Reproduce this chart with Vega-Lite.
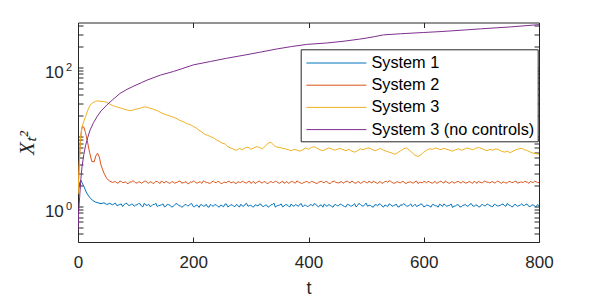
{
  "$schema": "https://vega.github.io/schema/vega-lite/v6.json",
  "autosize": "none",
  "padding": {"left": 78, "top": 22.5, "right": 58, "bottom": 55.5},
  "width": 461,
  "height": 219.5,
  "config": {
    "view": {"stroke": "#262626", "strokeWidth": 1},
    "axis": {"grid": false, "domain": false, "tickColor": "#262626", "tickWidth": 1, "tickSize": -5, "labelColor": "#262626", "labelFont": "Liberation Sans", "labelFontSize": 17, "titleColor": "#262626", "labelFlush": false, "labelOverlap": false, "labelBound": false}
  },
  "data": {"values": [
{"t":0,"v":1.5,"series":"System 1"},{"t":3,"v":2.2,"series":"System 1"},{"t":5,"v":2.37,"series":"System 1"},{"t":8,"v":2.1,"series":"System 1"},{"t":10,"v":1.95,"series":"System 1"},{"t":15,"v":1.55,"series":"System 1"},{"t":20,"v":1.35,"series":"System 1"},{"t":25,"v":1.22,"series":"System 1"},{"t":30,"v":1.15,"series":"System 1"},{"t":35,"v":1.12,"series":"System 1"},{"t":40,"v":1.09,"series":"System 1"},{"t":45,"v":1.12,"series":"System 1"},{"t":50,"v":1.06,"series":"System 1"},{"t":55,"v":1.1,"series":"System 1"},{"t":60,"v":1.05,"series":"System 1"},{"t":65,"v":1.11,"series":"System 1"},{"t":70,"v":1.04,"series":"System 1"},{"t":75,"v":1.08,"series":"System 1"},{"t":80,"v":1.06,"series":"System 1"},{"t":85,"v":1.1,"series":"System 1"},{"t":90,"v":1.03,"series":"System 1"},{"t":95,"v":1.07,"series":"System 1"},
{"t":100,"v":1.04,"series":"System 1"},{"t":105,"v":1.09,"series":"System 1"},{"t":110,"v":1.01,"series":"System 1"},{"t":115,"v":1.1,"series":"System 1"},{"t":120,"v":1.03,"series":"System 1"},{"t":125,"v":0.99,"series":"System 1"},{"t":130,"v":1.06,"series":"System 1"},{"t":135,"v":1.11,"series":"System 1"},{"t":140,"v":1.02,"series":"System 1"},{"t":145,"v":1.05,"series":"System 1"},{"t":150,"v":0.98,"series":"System 1"},{"t":155,"v":1.07,"series":"System 1"},{"t":160,"v":1.03,"series":"System 1"},{"t":165,"v":1.0,"series":"System 1"},{"t":170,"v":1.09,"series":"System 1"},{"t":175,"v":1.02,"series":"System 1"},{"t":180,"v":0.97,"series":"System 1"},{"t":185,"v":1.05,"series":"System 1"},{"t":190,"v":1.01,"series":"System 1"},{"t":195,"v":1.08,"series":"System 1"},
{"t":200,"v":0.99,"series":"System 1"},{"t":205,"v":1.04,"series":"System 1"},{"t":210,"v":0.96,"series":"System 1"},{"t":215,"v":1.05,"series":"System 1"},{"t":220,"v":1.01,"series":"System 1"},{"t":225,"v":0.98,"series":"System 1"},{"t":230,"v":1.07,"series":"System 1"},{"t":235,"v":1.0,"series":"System 1"},{"t":240,"v":1.04,"series":"System 1"},{"t":245,"v":0.97,"series":"System 1"},{"t":250,"v":1.02,"series":"System 1"},{"t":255,"v":1.07,"series":"System 1"},{"t":260,"v":0.98,"series":"System 1"},{"t":265,"v":1.04,"series":"System 1"},{"t":270,"v":1.0,"series":"System 1"},{"t":275,"v":1.06,"series":"System 1"},{"t":280,"v":0.97,"series":"System 1"},{"t":285,"v":1.01,"series":"System 1"},{"t":290,"v":1.07,"series":"System 1"},{"t":295,"v":1.0,"series":"System 1"},
{"t":300,"v":1.04,"series":"System 1"},{"t":305,"v":0.98,"series":"System 1"},{"t":310,"v":1.03,"series":"System 1"},{"t":315,"v":1.08,"series":"System 1"},{"t":320,"v":1.0,"series":"System 1"},{"t":325,"v":1.04,"series":"System 1"},{"t":330,"v":0.97,"series":"System 1"},{"t":335,"v":1.05,"series":"System 1"},{"t":340,"v":1.11,"series":"System 1"},{"t":345,"v":1.01,"series":"System 1"},{"t":350,"v":1.04,"series":"System 1"},{"t":355,"v":0.98,"series":"System 1"},{"t":360,"v":1.05,"series":"System 1"},{"t":365,"v":1.01,"series":"System 1"},{"t":370,"v":1.08,"series":"System 1"},{"t":375,"v":1.0,"series":"System 1"},{"t":380,"v":1.03,"series":"System 1"},{"t":385,"v":1.07,"series":"System 1"},{"t":390,"v":0.98,"series":"System 1"},{"t":395,"v":1.04,"series":"System 1"},
{"t":400,"v":1.0,"series":"System 1"},{"t":405,"v":1.05,"series":"System 1"},{"t":410,"v":1.09,"series":"System 1"},{"t":415,"v":1.01,"series":"System 1"},{"t":420,"v":1.04,"series":"System 1"},{"t":425,"v":0.97,"series":"System 1"},{"t":430,"v":1.02,"series":"System 1"},{"t":435,"v":1.06,"series":"System 1"},{"t":440,"v":1.0,"series":"System 1"},{"t":445,"v":1.05,"series":"System 1"},{"t":450,"v":1.01,"series":"System 1"},{"t":455,"v":1.08,"series":"System 1"},{"t":460,"v":1.02,"series":"System 1"},{"t":465,"v":0.98,"series":"System 1"},{"t":470,"v":1.05,"series":"System 1"},{"t":475,"v":1.01,"series":"System 1"},{"t":480,"v":1.09,"series":"System 1"},{"t":485,"v":1.02,"series":"System 1"},{"t":490,"v":1.06,"series":"System 1"},{"t":495,"v":1.0,"series":"System 1"},
{"t":500,"v":1.11,"series":"System 1"},{"t":505,"v":1.03,"series":"System 1"},{"t":510,"v":0.99,"series":"System 1"},{"t":515,"v":1.05,"series":"System 1"},{"t":520,"v":1.01,"series":"System 1"},{"t":525,"v":1.07,"series":"System 1"},{"t":530,"v":0.97,"series":"System 1"},{"t":535,"v":1.02,"series":"System 1"},{"t":540,"v":1.08,"series":"System 1"},{"t":545,"v":1.0,"series":"System 1"},{"t":550,"v":1.04,"series":"System 1"},{"t":555,"v":0.98,"series":"System 1"},{"t":560,"v":1.05,"series":"System 1"},{"t":565,"v":1.09,"series":"System 1"},{"t":570,"v":1.01,"series":"System 1"},{"t":575,"v":1.04,"series":"System 1"},{"t":580,"v":0.99,"series":"System 1"},{"t":585,"v":1.07,"series":"System 1"},{"t":590,"v":1.02,"series":"System 1"},{"t":595,"v":1.08,"series":"System 1"},
{"t":600,"v":0.98,"series":"System 1"},{"t":605,"v":1.04,"series":"System 1"},{"t":610,"v":1.0,"series":"System 1"},{"t":615,"v":1.06,"series":"System 1"},{"t":620,"v":1.02,"series":"System 1"},{"t":625,"v":0.97,"series":"System 1"},{"t":630,"v":1.04,"series":"System 1"},{"t":635,"v":1.08,"series":"System 1"},{"t":640,"v":1.0,"series":"System 1"},{"t":645,"v":1.03,"series":"System 1"},{"t":650,"v":0.96,"series":"System 1"},{"t":655,"v":1.01,"series":"System 1"},{"t":660,"v":1.05,"series":"System 1"},{"t":665,"v":0.98,"series":"System 1"},{"t":670,"v":1.04,"series":"System 1"},{"t":675,"v":1.0,"series":"System 1"},{"t":680,"v":1.07,"series":"System 1"},{"t":685,"v":1.01,"series":"System 1"},{"t":690,"v":1.04,"series":"System 1"},{"t":695,"v":0.98,"series":"System 1"},
{"t":700,"v":1.05,"series":"System 1"},{"t":705,"v":1.01,"series":"System 1"},{"t":710,"v":1.08,"series":"System 1"},{"t":715,"v":1.02,"series":"System 1"},{"t":720,"v":0.99,"series":"System 1"},{"t":725,"v":1.05,"series":"System 1"},{"t":730,"v":1.01,"series":"System 1"},{"t":735,"v":1.06,"series":"System 1"},{"t":740,"v":1.02,"series":"System 1"},{"t":745,"v":1.1,"series":"System 1"},{"t":750,"v":1.03,"series":"System 1"},{"t":755,"v":0.99,"series":"System 1"},{"t":760,"v":1.05,"series":"System 1"},{"t":765,"v":1.02,"series":"System 1"},{"t":770,"v":1.09,"series":"System 1"},{"t":775,"v":1.03,"series":"System 1"},{"t":780,"v":1.06,"series":"System 1"},{"t":785,"v":0.99,"series":"System 1"},{"t":790,"v":1.04,"series":"System 1"},{"t":795,"v":0.98,"series":"System 1"},{"t":800,"v":1.02,"series":"System 1"},
{"t":62.5,"v":1.08,"series":"System 1"},{"t":67.5,"v":1.02,"series":"System 1"},{"t":72.5,"v":1.06,"series":"System 1"},{"t":77.5,"v":0.99,"series":"System 1"},{"t":82.5,"v":1.1,"series":"System 1"},{"t":87.5,"v":1.03,"series":"System 1"},{"t":92.5,"v":1.07,"series":"System 1"},{"t":97.5,"v":1.0,"series":"System 1"},{"t":102.5,"v":1.05,"series":"System 1"},{"t":107.5,"v":1.09,"series":"System 1"},{"t":112.5,"v":0.98,"series":"System 1"},{"t":117.5,"v":1.04,"series":"System 1"},{"t":122.5,"v":1.07,"series":"System 1"},{"t":127.5,"v":1.01,"series":"System 1"},{"t":132.5,"v":1.06,"series":"System 1"},{"t":137.5,"v":0.99,"series":"System 1"},{"t":142.5,"v":1.03,"series":"System 1"},{"t":147.5,"v":1.08,"series":"System 1"},{"t":152.5,"v":1.0,"series":"System 1"},{"t":157.5,"v":1.05,"series":"System 1"},
{"t":162.5,"v":0.97,"series":"System 1"},{"t":167.5,"v":1.04,"series":"System 1"},{"t":172.5,"v":1.08,"series":"System 1"},{"t":177.5,"v":1.01,"series":"System 1"},{"t":182.5,"v":0.99,"series":"System 1"},{"t":187.5,"v":1.06,"series":"System 1"},{"t":192.5,"v":1.02,"series":"System 1"},{"t":197.5,"v":1.09,"series":"System 1"},{"t":202.5,"v":0.98,"series":"System 1"},{"t":207.5,"v":1.03,"series":"System 1"},{"t":212.5,"v":1.05,"series":"System 1"},{"t":217.5,"v":1.0,"series":"System 1"},{"t":222.5,"v":1.07,"series":"System 1"},{"t":227.5,"v":0.97,"series":"System 1"},{"t":232.5,"v":1.02,"series":"System 1"},{"t":237.5,"v":1.06,"series":"System 1"},{"t":242.5,"v":1.0,"series":"System 1"},{"t":247.5,"v":1.04,"series":"System 1"},{"t":252.5,"v":0.98,"series":"System 1"},{"t":257.5,"v":1.08,"series":"System 1"},
{"t":262.5,"v":1.01,"series":"System 1"},{"t":267.5,"v":1.05,"series":"System 1"},{"t":272.5,"v":0.99,"series":"System 1"},{"t":277.5,"v":1.03,"series":"System 1"},{"t":282.5,"v":1.07,"series":"System 1"},{"t":287.5,"v":1.0,"series":"System 1"},{"t":292.5,"v":1.1,"series":"System 1"},{"t":297.5,"v":1.02,"series":"System 1"},{"t":302.5,"v":0.98,"series":"System 1"},{"t":307.5,"v":1.05,"series":"System 1"},{"t":312.5,"v":1.01,"series":"System 1"},{"t":317.5,"v":1.07,"series":"System 1"},{"t":322.5,"v":0.99,"series":"System 1"},{"t":327.5,"v":1.04,"series":"System 1"},{"t":332.5,"v":1.0,"series":"System 1"},{"t":337.5,"v":1.06,"series":"System 1"},{"t":342.5,"v":0.97,"series":"System 1"},{"t":347.5,"v":1.03,"series":"System 1"},{"t":352.5,"v":1.08,"series":"System 1"},{"t":357.5,"v":1.01,"series":"System 1"},
{"t":362.5,"v":1.05,"series":"System 1"},{"t":367.5,"v":0.98,"series":"System 1"},{"t":372.5,"v":1.02,"series":"System 1"},{"t":377.5,"v":1.06,"series":"System 1"},{"t":382.5,"v":1.0,"series":"System 1"},{"t":387.5,"v":1.09,"series":"System 1"},{"t":392.5,"v":1.03,"series":"System 1"},{"t":397.5,"v":0.99,"series":"System 1"},{"t":402.5,"v":1.05,"series":"System 1"},{"t":407.5,"v":1.01,"series":"System 1"},{"t":412.5,"v":1.07,"series":"System 1"},{"t":417.5,"v":0.98,"series":"System 1"},{"t":422.5,"v":1.04,"series":"System 1"},{"t":427.5,"v":1.08,"series":"System 1"},{"t":432.5,"v":1.0,"series":"System 1"},{"t":437.5,"v":1.03,"series":"System 1"},{"t":442.5,"v":0.97,"series":"System 1"},{"t":447.5,"v":1.06,"series":"System 1"},{"t":452.5,"v":1.02,"series":"System 1"},{"t":457.5,"v":1.05,"series":"System 1"},
{"t":462.5,"v":0.99,"series":"System 1"},{"t":467.5,"v":1.07,"series":"System 1"},{"t":472.5,"v":1.01,"series":"System 1"},{"t":477.5,"v":1.04,"series":"System 1"},{"t":482.5,"v":0.98,"series":"System 1"},{"t":487.5,"v":1.1,"series":"System 1"},{"t":492.5,"v":1.02,"series":"System 1"},{"t":497.5,"v":1.06,"series":"System 1"},{"t":502.5,"v":1.0,"series":"System 1"},{"t":507.5,"v":1.03,"series":"System 1"},{"t":512.5,"v":0.97,"series":"System 1"},{"t":517.5,"v":1.05,"series":"System 1"},{"t":522.5,"v":1.08,"series":"System 1"},{"t":527.5,"v":1.01,"series":"System 1"},{"t":532.5,"v":1.04,"series":"System 1"},{"t":537.5,"v":0.99,"series":"System 1"},{"t":542.5,"v":1.06,"series":"System 1"},{"t":547.5,"v":1.02,"series":"System 1"},{"t":552.5,"v":1.07,"series":"System 1"},{"t":557.5,"v":0.98,"series":"System 1"},
{"t":562.5,"v":1.03,"series":"System 1"},{"t":567.5,"v":1.05,"series":"System 1"},{"t":572.5,"v":1.0,"series":"System 1"},{"t":577.5,"v":1.08,"series":"System 1"},{"t":582.5,"v":1.02,"series":"System 1"},{"t":587.5,"v":0.99,"series":"System 1"},{"t":592.5,"v":1.04,"series":"System 1"},{"t":597.5,"v":1.06,"series":"System 1"},{"t":602.5,"v":1.0,"series":"System 1"},{"t":607.5,"v":1.03,"series":"System 1"},{"t":612.5,"v":0.97,"series":"System 1"},{"t":617.5,"v":1.05,"series":"System 1"},{"t":622.5,"v":1.01,"series":"System 1"},{"t":627.5,"v":1.07,"series":"System 1"},{"t":632.5,"v":0.99,"series":"System 1"},{"t":637.5,"v":1.04,"series":"System 1"},{"t":642.5,"v":1.02,"series":"System 1"},{"t":647.5,"v":1.08,"series":"System 1"},{"t":652.5,"v":1.0,"series":"System 1"},{"t":657.5,"v":1.05,"series":"System 1"},
{"t":662.5,"v":0.98,"series":"System 1"},{"t":667.5,"v":1.03,"series":"System 1"},{"t":672.5,"v":1.06,"series":"System 1"},{"t":677.5,"v":1.01,"series":"System 1"},{"t":682.5,"v":1.09,"series":"System 1"},{"t":687.5,"v":1.0,"series":"System 1"},{"t":692.5,"v":1.04,"series":"System 1"},{"t":697.5,"v":0.98,"series":"System 1"},{"t":702.5,"v":1.06,"series":"System 1"},{"t":707.5,"v":1.02,"series":"System 1"},{"t":712.5,"v":1.05,"series":"System 1"},{"t":717.5,"v":0.99,"series":"System 1"},{"t":722.5,"v":1.07,"series":"System 1"},{"t":727.5,"v":1.01,"series":"System 1"},{"t":732.5,"v":1.03,"series":"System 1"},{"t":737.5,"v":1.08,"series":"System 1"},{"t":742.5,"v":1.0,"series":"System 1"},{"t":747.5,"v":1.04,"series":"System 1"},{"t":752.5,"v":0.98,"series":"System 1"},{"t":757.5,"v":1.06,"series":"System 1"},
{"t":762.5,"v":1.0,"series":"System 1"},{"t":767.5,"v":1.04,"series":"System 1"},{"t":772.5,"v":1.02,"series":"System 1"},{"t":777.5,"v":1.07,"series":"System 1"},{"t":782.5,"v":0.99,"series":"System 1"},{"t":787.5,"v":1.05,"series":"System 1"},{"t":792.5,"v":1.01,"series":"System 1"},{"t":797.5,"v":1.06,"series":"System 1"},

{"t":0,"v":1.5,"series":"System 2"},{"t":2,"v":4,"series":"System 2"},{"t":4,"v":8.5,"series":"System 2"},{"t":6,"v":12.5,"series":"System 2"},{"t":8,"v":14.2,"series":"System 2"},{"t":10,"v":13.8,"series":"System 2"},{"t":13,"v":11.5,"series":"System 2"},{"t":16,"v":8.8,"series":"System 2"},{"t":20,"v":6.0,"series":"System 2"},{"t":24,"v":4.4,"series":"System 2"},{"t":28,"v":4.35,"series":"System 2"},{"t":31,"v":5.3,"series":"System 2"},{"t":34,"v":5.8,"series":"System 2"},{"t":37,"v":5.1,"series":"System 2"},{"t":40,"v":3.9,"series":"System 2"},{"t":45,"v":3.0,"series":"System 2"},{"t":50,"v":2.5,"series":"System 2"},{"t":55,"v":2.3,"series":"System 2"},{"t":60,"v":2.2,"series":"System 2"},
{"t":65,"v":2.26,"series":"System 2"},{"t":70,"v":2.15,"series":"System 2"},{"t":75,"v":2.28,"series":"System 2"},{"t":80,"v":2.2,"series":"System 2"},{"t":85,"v":2.13,"series":"System 2"},{"t":90,"v":2.25,"series":"System 2"},{"t":95,"v":2.31,"series":"System 2"},{"t":100,"v":2.17,"series":"System 2"},{"t":105,"v":2.23,"series":"System 2"},{"t":110,"v":2.14,"series":"System 2"},{"t":115,"v":2.28,"series":"System 2"},{"t":120,"v":2.19,"series":"System 2"},{"t":125,"v":2.25,"series":"System 2"},{"t":130,"v":2.12,"series":"System 2"},{"t":135,"v":2.27,"series":"System 2"},{"t":140,"v":2.2,"series":"System 2"},{"t":145,"v":2.32,"series":"System 2"},{"t":150,"v":2.16,"series":"System 2"},{"t":155,"v":2.22,"series":"System 2"},{"t":160,"v":2.14,"series":"System 2"},{"t":165,"v":2.26,"series":"System 2"},{"t":170,"v":2.19,"series":"System 2"},{"t":175,"v":2.29,"series":"System 2"},{"t":180,"v":2.15,"series":"System 2"},{"t":185,"v":2.21,"series":"System 2"},{"t":190,"v":2.12,"series":"System 2"},{"t":195,"v":2.25,"series":"System 2"},
{"t":200,"v":2.3,"series":"System 2"},{"t":205,"v":2.17,"series":"System 2"},{"t":210,"v":2.23,"series":"System 2"},{"t":215,"v":2.13,"series":"System 2"},{"t":220,"v":2.27,"series":"System 2"},{"t":225,"v":2.2,"series":"System 2"},{"t":230,"v":2.16,"series":"System 2"},{"t":235,"v":2.3,"series":"System 2"},{"t":240,"v":2.18,"series":"System 2"},{"t":245,"v":2.24,"series":"System 2"},{"t":250,"v":2.11,"series":"System 2"},{"t":255,"v":2.22,"series":"System 2"},{"t":260,"v":2.28,"series":"System 2"},{"t":265,"v":2.17,"series":"System 2"},{"t":270,"v":2.25,"series":"System 2"},{"t":275,"v":2.14,"series":"System 2"},{"t":280,"v":2.21,"series":"System 2"},{"t":285,"v":2.29,"series":"System 2"},{"t":290,"v":2.18,"series":"System 2"},{"t":295,"v":2.24,"series":"System 2"},
{"t":300,"v":2.13,"series":"System 2"},{"t":305,"v":2.26,"series":"System 2"},{"t":310,"v":2.2,"series":"System 2"},{"t":315,"v":2.31,"series":"System 2"},{"t":320,"v":2.16,"series":"System 2"},{"t":325,"v":2.23,"series":"System 2"},{"t":330,"v":2.12,"series":"System 2"},{"t":335,"v":2.27,"series":"System 2"},{"t":340,"v":2.19,"series":"System 2"},{"t":345,"v":2.25,"series":"System 2"},{"t":350,"v":2.15,"series":"System 2"},{"t":355,"v":2.3,"series":"System 2"},{"t":360,"v":2.2,"series":"System 2"},{"t":365,"v":2.14,"series":"System 2"},{"t":370,"v":2.26,"series":"System 2"},{"t":375,"v":2.18,"series":"System 2"},{"t":380,"v":2.32,"series":"System 2"},{"t":385,"v":2.2,"series":"System 2"},{"t":390,"v":2.15,"series":"System 2"},{"t":395,"v":2.24,"series":"System 2"},
{"t":400,"v":2.17,"series":"System 2"},{"t":405,"v":2.29,"series":"System 2"},{"t":410,"v":2.21,"series":"System 2"},{"t":415,"v":2.13,"series":"System 2"},{"t":420,"v":2.25,"series":"System 2"},{"t":425,"v":2.19,"series":"System 2"},{"t":430,"v":2.28,"series":"System 2"},{"t":435,"v":2.15,"series":"System 2"},{"t":440,"v":2.22,"series":"System 2"},{"t":445,"v":2.3,"series":"System 2"},{"t":450,"v":2.18,"series":"System 2"},{"t":455,"v":2.23,"series":"System 2"},{"t":460,"v":2.14,"series":"System 2"},{"t":465,"v":2.27,"series":"System 2"},{"t":470,"v":2.2,"series":"System 2"},{"t":475,"v":2.31,"series":"System 2"},{"t":480,"v":2.17,"series":"System 2"},{"t":485,"v":2.24,"series":"System 2"},{"t":490,"v":2.13,"series":"System 2"},{"t":495,"v":2.26,"series":"System 2"},
{"t":500,"v":2.2,"series":"System 2"},{"t":505,"v":2.3,"series":"System 2"},{"t":510,"v":2.16,"series":"System 2"},{"t":515,"v":2.23,"series":"System 2"},{"t":520,"v":2.12,"series":"System 2"},{"t":525,"v":2.25,"series":"System 2"},{"t":530,"v":2.19,"series":"System 2"},{"t":535,"v":2.28,"series":"System 2"},{"t":540,"v":2.33,"series":"System 2"},{"t":545,"v":2.2,"series":"System 2"},{"t":550,"v":2.15,"series":"System 2"},{"t":555,"v":2.24,"series":"System 2"},{"t":560,"v":2.18,"series":"System 2"},{"t":565,"v":2.27,"series":"System 2"},{"t":570,"v":2.14,"series":"System 2"},{"t":575,"v":2.22,"series":"System 2"},{"t":580,"v":2.17,"series":"System 2"},{"t":585,"v":2.26,"series":"System 2"},{"t":590,"v":2.12,"series":"System 2"},{"t":595,"v":2.21,"series":"System 2"},
{"t":600,"v":2.28,"series":"System 2"},{"t":605,"v":2.18,"series":"System 2"},{"t":610,"v":2.24,"series":"System 2"},{"t":615,"v":2.15,"series":"System 2"},{"t":620,"v":2.27,"series":"System 2"},{"t":625,"v":2.2,"series":"System 2"},{"t":630,"v":2.3,"series":"System 2"},{"t":635,"v":2.16,"series":"System 2"},{"t":640,"v":2.23,"series":"System 2"},{"t":645,"v":2.13,"series":"System 2"},{"t":650,"v":2.25,"series":"System 2"},{"t":655,"v":2.19,"series":"System 2"},{"t":660,"v":2.28,"series":"System 2"},{"t":665,"v":2.15,"series":"System 2"},{"t":670,"v":2.22,"series":"System 2"},{"t":675,"v":2.17,"series":"System 2"},{"t":680,"v":2.26,"series":"System 2"},{"t":685,"v":2.14,"series":"System 2"},{"t":690,"v":2.21,"series":"System 2"},{"t":695,"v":2.29,"series":"System 2"},
{"t":700,"v":2.18,"series":"System 2"},{"t":705,"v":2.31,"series":"System 2"},{"t":710,"v":2.22,"series":"System 2"},{"t":715,"v":2.16,"series":"System 2"},{"t":720,"v":2.25,"series":"System 2"},{"t":725,"v":2.19,"series":"System 2"},{"t":730,"v":2.27,"series":"System 2"},{"t":735,"v":2.14,"series":"System 2"},{"t":740,"v":2.21,"series":"System 2"},{"t":745,"v":2.17,"series":"System 2"},{"t":750,"v":2.26,"series":"System 2"},{"t":755,"v":2.2,"series":"System 2"},{"t":760,"v":2.3,"series":"System 2"},{"t":765,"v":2.18,"series":"System 2"},{"t":770,"v":2.24,"series":"System 2"},{"t":775,"v":2.29,"series":"System 2"},{"t":780,"v":2.21,"series":"System 2"},{"t":785,"v":2.27,"series":"System 2"},{"t":790,"v":2.19,"series":"System 2"},{"t":795,"v":2.25,"series":"System 2"},{"t":800,"v":2.2,"series":"System 2"},
{"t":62.5,"v":2.24,"series":"System 2"},{"t":67.5,"v":2.17,"series":"System 2"},{"t":72.5,"v":2.3,"series":"System 2"},{"t":77.5,"v":2.19,"series":"System 2"},{"t":82.5,"v":2.25,"series":"System 2"},{"t":87.5,"v":2.12,"series":"System 2"},{"t":92.5,"v":2.22,"series":"System 2"},{"t":97.5,"v":2.28,"series":"System 2"},{"t":102.5,"v":2.16,"series":"System 2"},{"t":107.5,"v":2.24,"series":"System 2"},{"t":112.5,"v":2.2,"series":"System 2"},{"t":117.5,"v":2.31,"series":"System 2"},{"t":122.5,"v":2.15,"series":"System 2"},{"t":127.5,"v":2.23,"series":"System 2"},{"t":132.5,"v":2.18,"series":"System 2"},{"t":137.5,"v":2.27,"series":"System 2"},{"t":142.5,"v":2.13,"series":"System 2"},{"t":147.5,"v":2.21,"series":"System 2"},{"t":152.5,"v":2.29,"series":"System 2"},{"t":157.5,"v":2.17,"series":"System 2"},
{"t":162.5,"v":2.25,"series":"System 2"},{"t":167.5,"v":2.14,"series":"System 2"},{"t":172.5,"v":2.22,"series":"System 2"},{"t":177.5,"v":2.3,"series":"System 2"},{"t":182.5,"v":2.18,"series":"System 2"},{"t":187.5,"v":2.26,"series":"System 2"},{"t":192.5,"v":2.11,"series":"System 2"},{"t":197.5,"v":2.2,"series":"System 2"},{"t":202.5,"v":2.27,"series":"System 2"},{"t":207.5,"v":2.16,"series":"System 2"},{"t":212.5,"v":2.23,"series":"System 2"},{"t":217.5,"v":2.32,"series":"System 2"},{"t":222.5,"v":2.19,"series":"System 2"},{"t":227.5,"v":2.14,"series":"System 2"},{"t":232.5,"v":2.25,"series":"System 2"},{"t":237.5,"v":2.21,"series":"System 2"},{"t":242.5,"v":2.28,"series":"System 2"},{"t":247.5,"v":2.15,"series":"System 2"},{"t":252.5,"v":2.22,"series":"System 2"},{"t":257.5,"v":2.17,"series":"System 2"},
{"t":262.5,"v":2.29,"series":"System 2"},{"t":267.5,"v":2.2,"series":"System 2"},{"t":272.5,"v":2.13,"series":"System 2"},{"t":277.5,"v":2.26,"series":"System 2"},{"t":282.5,"v":2.19,"series":"System 2"},{"t":287.5,"v":2.24,"series":"System 2"},{"t":292.5,"v":2.16,"series":"System 2"},{"t":297.5,"v":2.3,"series":"System 2"},{"t":302.5,"v":2.21,"series":"System 2"},{"t":307.5,"v":2.12,"series":"System 2"},{"t":312.5,"v":2.25,"series":"System 2"},{"t":317.5,"v":2.18,"series":"System 2"},{"t":322.5,"v":2.27,"series":"System 2"},{"t":327.5,"v":2.15,"series":"System 2"},{"t":332.5,"v":2.23,"series":"System 2"},{"t":337.5,"v":2.2,"series":"System 2"},{"t":342.5,"v":2.31,"series":"System 2"},{"t":347.5,"v":2.17,"series":"System 2"},{"t":352.5,"v":2.22,"series":"System 2"},{"t":357.5,"v":2.14,"series":"System 2"},
{"t":362.5,"v":2.26,"series":"System 2"},{"t":367.5,"v":2.19,"series":"System 2"},{"t":372.5,"v":2.28,"series":"System 2"},{"t":377.5,"v":2.16,"series":"System 2"},{"t":382.5,"v":2.24,"series":"System 2"},{"t":387.5,"v":2.13,"series":"System 2"},{"t":392.5,"v":2.21,"series":"System 2"},{"t":397.5,"v":2.29,"series":"System 2"},{"t":402.5,"v":2.18,"series":"System 2"},{"t":407.5,"v":2.25,"series":"System 2"},{"t":412.5,"v":2.15,"series":"System 2"},{"t":417.5,"v":2.22,"series":"System 2"},{"t":422.5,"v":2.3,"series":"System 2"},{"t":427.5,"v":2.19,"series":"System 2"},{"t":432.5,"v":2.24,"series":"System 2"},{"t":437.5,"v":2.12,"series":"System 2"},{"t":442.5,"v":2.27,"series":"System 2"},{"t":447.5,"v":2.2,"series":"System 2"},{"t":452.5,"v":2.16,"series":"System 2"},{"t":457.5,"v":2.26,"series":"System 2"},
{"t":462.5,"v":2.21,"series":"System 2"},{"t":467.5,"v":2.31,"series":"System 2"},{"t":472.5,"v":2.17,"series":"System 2"},{"t":477.5,"v":2.23,"series":"System 2"},{"t":482.5,"v":2.14,"series":"System 2"},{"t":487.5,"v":2.25,"series":"System 2"},{"t":492.5,"v":2.19,"series":"System 2"},{"t":497.5,"v":2.28,"series":"System 2"},{"t":502.5,"v":2.16,"series":"System 2"},{"t":507.5,"v":2.22,"series":"System 2"},{"t":512.5,"v":2.3,"series":"System 2"},{"t":517.5,"v":2.18,"series":"System 2"},{"t":522.5,"v":2.24,"series":"System 2"},{"t":527.5,"v":2.13,"series":"System 2"},{"t":532.5,"v":2.26,"series":"System 2"},{"t":537.5,"v":2.2,"series":"System 2"},{"t":542.5,"v":2.29,"series":"System 2"},{"t":547.5,"v":2.15,"series":"System 2"},{"t":552.5,"v":2.23,"series":"System 2"},{"t":557.5,"v":2.19,"series":"System 2"},
{"t":562.5,"v":2.27,"series":"System 2"},{"t":567.5,"v":2.14,"series":"System 2"},{"t":572.5,"v":2.21,"series":"System 2"},{"t":577.5,"v":2.25,"series":"System 2"},{"t":582.5,"v":2.17,"series":"System 2"},{"t":587.5,"v":2.3,"series":"System 2"},{"t":592.5,"v":2.2,"series":"System 2"},{"t":597.5,"v":2.16,"series":"System 2"},{"t":602.5,"v":2.24,"series":"System 2"},{"t":607.5,"v":2.28,"series":"System 2"},{"t":612.5,"v":2.18,"series":"System 2"},{"t":617.5,"v":2.22,"series":"System 2"},{"t":622.5,"v":2.13,"series":"System 2"},{"t":627.5,"v":2.26,"series":"System 2"},{"t":632.5,"v":2.19,"series":"System 2"},{"t":637.5,"v":2.31,"series":"System 2"},{"t":642.5,"v":2.17,"series":"System 2"},{"t":647.5,"v":2.23,"series":"System 2"},{"t":652.5,"v":2.15,"series":"System 2"},{"t":657.5,"v":2.25,"series":"System 2"},
{"t":662.5,"v":2.2,"series":"System 2"},{"t":667.5,"v":2.28,"series":"System 2"},{"t":672.5,"v":2.16,"series":"System 2"},{"t":677.5,"v":2.24,"series":"System 2"},{"t":682.5,"v":2.19,"series":"System 2"},{"t":687.5,"v":2.29,"series":"System 2"},{"t":692.5,"v":2.14,"series":"System 2"},{"t":697.5,"v":2.22,"series":"System 2"},{"t":702.5,"v":2.18,"series":"System 2"},{"t":707.5,"v":2.27,"series":"System 2"},{"t":712.5,"v":2.21,"series":"System 2"},{"t":717.5,"v":2.25,"series":"System 2"},{"t":722.5,"v":2.17,"series":"System 2"},{"t":727.5,"v":2.3,"series":"System 2"},{"t":732.5,"v":2.2,"series":"System 2"},{"t":737.5,"v":2.24,"series":"System 2"},{"t":742.5,"v":2.16,"series":"System 2"},{"t":747.5,"v":2.26,"series":"System 2"},
{"t":752.5,"v":2.19,"series":"System 2"},{"t":757.5,"v":2.27,"series":"System 2"},{"t":762.5,"v":2.15,"series":"System 2"},{"t":767.5,"v":2.22,"series":"System 2"},{"t":772.5,"v":2.18,"series":"System 2"},{"t":777.5,"v":2.25,"series":"System 2"},{"t":782.5,"v":2.14,"series":"System 2"},{"t":787.5,"v":2.23,"series":"System 2"},{"t":792.5,"v":2.29,"series":"System 2"},{"t":797.5,"v":2.18,"series":"System 2"},

{"t":0,"v":1.5,"series":"System 3"},{"t":2,"v":3.5,"series":"System 3"},{"t":4,"v":8.9,"series":"System 3"},{"t":7,"v":13.9,"series":"System 3"},{"t":10,"v":16.5,"series":"System 3"},{"t":13,"v":19.4,"series":"System 3"},{"t":17,"v":24,"series":"System 3"},{"t":21,"v":28.6,"series":"System 3"},{"t":25,"v":30.5,"series":"System 3"},{"t":30,"v":32.3,"series":"System 3"},{"t":35,"v":32.8,"series":"System 3"},{"t":40,"v":32.2,"series":"System 3"},{"t":45,"v":32.0,"series":"System 3"},{"t":50,"v":31.2,"series":"System 3"},{"t":55,"v":29.6,"series":"System 3"},{"t":60,"v":28.2,"series":"System 3"},{"t":65,"v":27.3,"series":"System 3"},{"t":70,"v":26.4,"series":"System 3"},{"t":75,"v":25.8,"series":"System 3"},{"t":80,"v":24.9,"series":"System 3"},{"t":85,"v":24.3,"series":"System 3"},{"t":90,"v":23.7,"series":"System 3"},{"t":95,"v":24.2,"series":"System 3"},
{"t":100,"v":24.8,"series":"System 3"},{"t":105,"v":25.4,"series":"System 3"},{"t":110,"v":26.1,"series":"System 3"},{"t":115,"v":26.9,"series":"System 3"},{"t":120,"v":26.6,"series":"System 3"},{"t":125,"v":25.7,"series":"System 3"},{"t":130,"v":25.1,"series":"System 3"},{"t":135,"v":24.1,"series":"System 3"},{"t":140,"v":23.2,"series":"System 3"},{"t":145,"v":22.0,"series":"System 3"},{"t":150,"v":21.1,"series":"System 3"},{"t":155,"v":20.4,"series":"System 3"},{"t":160,"v":19.8,"series":"System 3"},{"t":165,"v":19.1,"series":"System 3"},{"t":170,"v":18.5,"series":"System 3"},{"t":175,"v":17.5,"series":"System 3"},{"t":180,"v":16.8,"series":"System 3"},{"t":185,"v":16.1,"series":"System 3"},{"t":190,"v":15.3,"series":"System 3"},{"t":195,"v":14.9,"series":"System 3"},
{"t":200,"v":14.1,"series":"System 3"},{"t":205,"v":13.4,"series":"System 3"},{"t":210,"v":12.4,"series":"System 3"},{"t":215,"v":11.7,"series":"System 3"},{"t":220,"v":10.8,"series":"System 3"},{"t":225,"v":10.5,"series":"System 3"},{"t":230,"v":10.0,"series":"System 3"},{"t":235,"v":9.7,"series":"System 3"},{"t":240,"v":9.0,"series":"System 3"},{"t":245,"v":8.6,"series":"System 3"},{"t":250,"v":8.1,"series":"System 3"},{"t":255,"v":7.9,"series":"System 3"},{"t":260,"v":7.2,"series":"System 3"},{"t":265,"v":6.9,"series":"System 3"},{"t":270,"v":6.6,"series":"System 3"},{"t":275,"v":6.4,"series":"System 3"},{"t":280,"v":6.8,"series":"System 3"},{"t":285,"v":6.5,"series":"System 3"},{"t":290,"v":6.9,"series":"System 3"},{"t":295,"v":7.1,"series":"System 3"},
{"t":300,"v":6.6,"series":"System 3"},{"t":305,"v":6.9,"series":"System 3"},{"t":310,"v":7.2,"series":"System 3"},{"t":315,"v":7.0,"series":"System 3"},{"t":320,"v":6.7,"series":"System 3"},{"t":325,"v":7.3,"series":"System 3"},{"t":330,"v":8.1,"series":"System 3"},{"t":335,"v":8.3,"series":"System 3"},{"t":340,"v":7.5,"series":"System 3"},{"t":345,"v":7.1,"series":"System 3"},{"t":350,"v":7.0,"series":"System 3"},{"t":355,"v":6.8,"series":"System 3"},{"t":360,"v":6.7,"series":"System 3"},{"t":365,"v":6.5,"series":"System 3"},{"t":370,"v":6.3,"series":"System 3"},{"t":375,"v":6.6,"series":"System 3"},{"t":380,"v":6.4,"series":"System 3"},{"t":385,"v":6.2,"series":"System 3"},{"t":390,"v":6.5,"series":"System 3"},{"t":395,"v":6.9,"series":"System 3"},
{"t":400,"v":6.6,"series":"System 3"},{"t":405,"v":7.0,"series":"System 3"},{"t":410,"v":7.2,"series":"System 3"},{"t":415,"v":6.8,"series":"System 3"},{"t":420,"v":6.5,"series":"System 3"},{"t":425,"v":6.3,"series":"System 3"},{"t":430,"v":6.6,"series":"System 3"},{"t":435,"v":6.9,"series":"System 3"},{"t":440,"v":6.7,"series":"System 3"},{"t":445,"v":6.4,"series":"System 3"},{"t":450,"v":6.6,"series":"System 3"},{"t":455,"v":6.8,"series":"System 3"},{"t":460,"v":6.5,"series":"System 3"},{"t":465,"v":6.3,"series":"System 3"},{"t":470,"v":6.6,"series":"System 3"},{"t":475,"v":6.2,"series":"System 3"},{"t":480,"v":6.0,"series":"System 3"},{"t":485,"v":6.3,"series":"System 3"},{"t":490,"v":6.7,"series":"System 3"},{"t":495,"v":6.5,"series":"System 3"},
{"t":500,"v":6.8,"series":"System 3"},{"t":505,"v":6.9,"series":"System 3"},{"t":510,"v":6.6,"series":"System 3"},{"t":515,"v":6.3,"series":"System 3"},{"t":520,"v":6.5,"series":"System 3"},{"t":525,"v":6.8,"series":"System 3"},{"t":530,"v":6.4,"series":"System 3"},{"t":535,"v":6.2,"series":"System 3"},{"t":540,"v":6.0,"series":"System 3"},{"t":545,"v":5.8,"series":"System 3"},{"t":550,"v":5.6,"series":"System 3"},{"t":555,"v":5.9,"series":"System 3"},{"t":560,"v":6.3,"series":"System 3"},{"t":565,"v":6.7,"series":"System 3"},{"t":570,"v":6.9,"series":"System 3"},{"t":575,"v":6.4,"series":"System 3"},{"t":580,"v":5.9,"series":"System 3"},{"t":585,"v":5.4,"series":"System 3"},{"t":590,"v":5.2,"series":"System 3"},{"t":595,"v":5.5,"series":"System 3"},
{"t":600,"v":6.0,"series":"System 3"},{"t":605,"v":6.4,"series":"System 3"},{"t":610,"v":6.7,"series":"System 3"},{"t":615,"v":6.6,"series":"System 3"},{"t":620,"v":6.9,"series":"System 3"},{"t":625,"v":6.7,"series":"System 3"},{"t":630,"v":6.5,"series":"System 3"},{"t":635,"v":6.8,"series":"System 3"},{"t":640,"v":6.6,"series":"System 3"},{"t":645,"v":6.4,"series":"System 3"},{"t":650,"v":6.2,"series":"System 3"},{"t":655,"v":6.5,"series":"System 3"},{"t":660,"v":6.7,"series":"System 3"},{"t":665,"v":6.4,"series":"System 3"},{"t":670,"v":6.6,"series":"System 3"},{"t":675,"v":6.9,"series":"System 3"},{"t":680,"v":6.7,"series":"System 3"},{"t":685,"v":6.5,"series":"System 3"},{"t":690,"v":6.8,"series":"System 3"},{"t":695,"v":7.0,"series":"System 3"},
{"t":700,"v":6.8,"series":"System 3"},{"t":705,"v":6.5,"series":"System 3"},{"t":710,"v":6.3,"series":"System 3"},{"t":715,"v":6.6,"series":"System 3"},{"t":720,"v":6.4,"series":"System 3"},{"t":725,"v":6.7,"series":"System 3"},{"t":730,"v":6.5,"series":"System 3"},{"t":735,"v":6.2,"series":"System 3"},{"t":740,"v":6.0,"series":"System 3"},{"t":745,"v":6.2,"series":"System 3"},{"t":750,"v":5.9,"series":"System 3"},{"t":755,"v":6.2,"series":"System 3"},{"t":760,"v":6.5,"series":"System 3"},{"t":765,"v":6.7,"series":"System 3"},{"t":770,"v":6.8,"series":"System 3"},{"t":775,"v":6.5,"series":"System 3"},{"t":780,"v":6.3,"series":"System 3"},{"t":785,"v":6.0,"series":"System 3"},{"t":790,"v":5.8,"series":"System 3"},{"t":795,"v":5.7,"series":"System 3"},{"t":800,"v":5.6,"series":"System 3"},

{"t":0,"v":0.45,"series":"System 3 (no controls)"},{"t":1,"v":0.8,"series":"System 3 (no controls)"},{"t":3,"v":1.4,"series":"System 3 (no controls)"},{"t":5,"v":2.5,"series":"System 3 (no controls)"},{"t":7,"v":3.7,"series":"System 3 (no controls)"},{"t":10,"v":5.5,"series":"System 3 (no controls)"},{"t":13,"v":7.4,"series":"System 3 (no controls)"},{"t":17,"v":9.8,"series":"System 3 (no controls)"},{"t":21,"v":12.5,"series":"System 3 (no controls)"},{"t":27,"v":16,"series":"System 3 (no controls)"},{"t":33,"v":19.4,"series":"System 3 (no controls)"},{"t":40,"v":23.5,"series":"System 3 (no controls)"},{"t":50,"v":28.6,"series":"System 3 (no controls)"},{"t":60,"v":34,"series":"System 3 (no controls)"},{"t":73,"v":42,"series":"System 3 (no controls)"},{"t":85,"v":48,"series":"System 3 (no controls)"},{"t":97,"v":53.6,"series":"System 3 (no controls)"},{"t":110,"v":60,"series":"System 3 (no controls)"},{"t":120,"v":65.4,"series":"System 3 (no controls)"},{"t":143,"v":77,"series":"System 3 (no controls)"},{"t":166,"v":87,"series":"System 3 (no controls)"},{"t":180,"v":95,"series":"System 3 (no controls)"},{"t":200,"v":108,"series":"System 3 (no controls)"},{"t":230,"v":121,"series":"System 3 (no controls)"},{"t":258,"v":134.6,"series":"System 3 (no controls)"},{"t":290,"v":150,"series":"System 3 (no controls)"},{"t":315,"v":164,"series":"System 3 (no controls)"},{"t":345,"v":183,"series":"System 3 (no controls)"},{"t":370,"v":198,"series":"System 3 (no controls)"},{"t":397,"v":213,"series":"System 3 (no controls)"},{"t":431,"v":223,"series":"System 3 (no controls)"},{"t":460,"v":236,"series":"System 3 (no controls)"},{"t":489,"v":254,"series":"System 3 (no controls)"},{"t":500,"v":262,"series":"System 3 (no controls)"},{"t":515,"v":276,"series":"System 3 (no controls)"},{"t":530,"v":292,"series":"System 3 (no controls)"},{"t":560,"v":303,"series":"System 3 (no controls)"},{"t":600,"v":316,"series":"System 3 (no controls)"},{"t":630,"v":326,"series":"System 3 (no controls)"},{"t":670,"v":343,"series":"System 3 (no controls)"},{"t":700,"v":357,"series":"System 3 (no controls)"},{"t":750,"v":380,"series":"System 3 (no controls)"},{"t":800,"v":410,"series":"System 3 (no controls)"}
  ]},
  "layer": [
    {
      "mark": {"type": "line", "strokeWidth": 1, "clip": true},
      "encoding": {
        "x": {"field": "t", "type": "quantitative", "scale": {"domain": [0, 800], "nice": false, "zero": false},
          "axis": {"orient": "bottom", "values": [0, 200, 400, 600, 800], "title": "t", "titleFont": "Liberation Sans", "titleFontSize": 18, "titleFontWeight": "normal", "titleY": 51, "titleBaseline": "alphabetic", "labelBaseline": "alphabetic", "labelPadding": 30.3}},
        "y": {"field": "v", "type": "quantitative", "scale": {"type": "log", "domain": [0.306, 440], "nice": false},
          "axis": {"orient": "left", "values": [0.4,0.5,0.6,0.7,0.8,0.9,1,2,3,4,5,6,7,8,9,10,20,30,40,50,60,70,80,90,100,200,300,400],
            "labelExpr": "datum.value == 1 || datum.value == 100 ? '10' : ''", "labelBaseline": "alphabetic", "labelOffset": 10.3, "labelPadding": 19.7,
            "title": "Xₜ²", "titleFont": "Liberation Serif", "titleFontStyle": "italic", "titleFontWeight": "normal", "titleFontSize": 21, "titleX": -51, "titleY": 120, "titleBaseline": "middle", "titleAlign": "center", "titleAngle": -90}},
        "color": {"field": "series", "type": "nominal",
          "scale": {"domain": ["System 1", "System 2", "System 3", "System 3 (no controls)"], "range": ["#0072BD", "#D95319", "#EDB120", "#7E2F8E"]},
          "legend": {"title": null, "orient": "none", "legendX": 222.7, "legendY": 26.8, "symbolType": "M-0.8,0H5.2", "symbolSize": 400, "symbolStrokeWidth": 1, "labelFont": "Liberation Sans", "labelFontSize": 16.3, "labelColor": "#000000", "labelLimit": 400, "labelOffset": 46.5, "labelExpr": "datum.label + ' '", "strokeColor": "#262626", "fillColor": "#ffffff", "padding": 3.2, "rowPadding": 3.2, "cornerRadius": 0}}
      }
    },
    {
      "mark": {"type": "point", "opacity": 0},
      "encoding": {
        "x": {"field": "t", "type": "quantitative", "scale": {"domain": [0, 800], "nice": false, "zero": false},
          "axis": {"orient": "top", "values": [0, 200, 400, 600, 800], "labels": false, "title": null}},
        "y": {"field": "v", "type": "quantitative", "scale": {"type": "log", "domain": [0.306, 440], "nice": false},
          "axis": {"orient": "right", "values": [0.4,0.5,0.6,0.7,0.8,0.9,1,2,3,4,5,6,7,8,9,10,20,30,40,50,60,70,80,90,100,200,300,400], "labels": false, "title": null}}
      }
    },
    {
      "mark": {"type": "point", "opacity": 0},
      "encoding": {
        "y": {"field": "v", "type": "quantitative", "scale": {"type": "log", "domain": [0.306, 440], "nice": false},
          "axis": {"orient": "left", "values": [1, 100], "ticks": false, "title": null, "labelExpr": "datum.value == 1 ? '0' : '2'", "labelFontSize": 11, "labelBaseline": "alphabetic", "labelOffset": 3.4, "labelPadding": 6.3}}
      }
    }
  ],
  "resolve": {"axis": {"x": "independent", "y": "independent"}}
}
